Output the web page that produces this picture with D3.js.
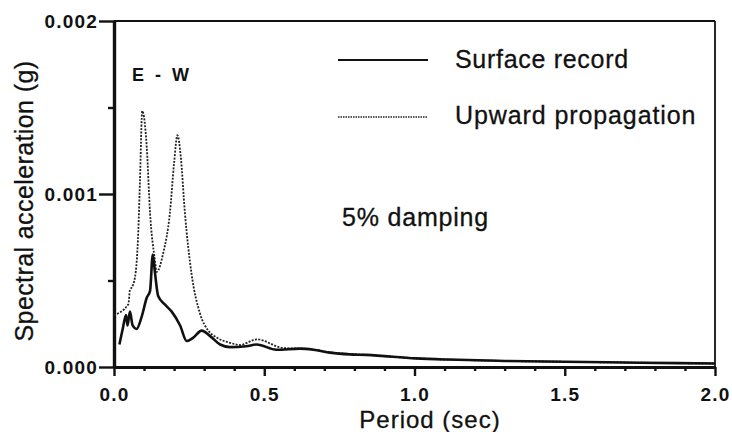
<!DOCTYPE html>
<html>
<head>
<meta charset="utf-8">
<script src="https://cdn.jsdelivr.net/npm/d3@7"></script>
<style>
  body { margin: 0; background: #fff; }
  svg text { font-family: "Liberation Sans", Arial, sans-serif; fill: #111; }
</style>
</head>
<body>
<svg width="732" height="432"></svg>
<script>
// surface record (solid)
var surfPeriod = [0.018, 0.029, 0.040, 0.045, 0.053, 0.062, 0.075, 0.092, 0.109, 0.120, 0.129, 0.136, 0.147, 0.170, 0.192, 0.220, 0.242, 0.264, 0.292, 0.319, 0.353, 0.386, 0.440, 0.475, 0.541, 0.619, 0.663, 0.719, 0.785, 0.840, 1.005, 1.110, 1.300, 1.500, 1.750, 2.000];
var surfAcc = [0.00013, 0.00022, 0.00030, 0.00024, 0.00032, 0.00024, 0.00022, 0.00029, 0.00040, 0.00044, 0.00065, 0.00055, 0.00041, 0.00036, 0.00032, 0.00024, 0.00015, 0.00017, 0.00021, 0.00018, 0.00013, 0.000115, 0.00012, 0.00013, 0.00010, 0.000106, 0.00010, 0.000083, 0.000073, 0.00007, 0.00005, 0.000043, 0.000035, 0.00003, 0.000025, 0.00002];

// upward propagation (dotted)
var upPeriod = [0.000, 0.048, 0.053, 0.059, 0.070, 0.081, 0.0865, 0.094, 0.109, 0.120, 0.136, 0.142, 0.164, 0.186, 0.200, 0.211, 0.222, 0.236, 0.258, 0.286, 0.314, 0.342, 0.386, 0.420, 0.464, 0.475, 0.563, 0.652, 0.719, 0.785, 0.840, 1.005, 1.110, 1.300, 1.500, 1.750, 2.000];
var upAcc = [0.00030, 0.000364, 0.000445, 0.00046, 0.00052, 0.00079, 0.00108, 0.00148, 0.00127, 0.00089, 0.00062, 0.00055, 0.00066, 0.00089, 0.00118, 0.00134, 0.00122, 0.00089, 0.00054, 0.00031, 0.00021, 0.00017, 0.00014, 0.000127, 0.000156, 0.00016, 0.00011, 0.000104, 0.000085, 0.000075, 0.00007, 0.00005, 0.000043, 0.000035, 0.00003, 0.000025, 0.00002];

var xMajor = [0, 0.5, 1.0, 1.5, 2.0];
var xMinorTicks = [0.1, 0.2, 0.3, 0.4, 0.6, 0.7, 0.8, 0.9, 1.1, 1.2, 1.3, 1.4, 1.6, 1.7, 1.8, 1.9];
var yMajor = [0, 0.001, 0.002];
var yMinorTicks = [0.0005, 0.0015];

var svg = d3.select("svg");
var x = d3.scaleLinear().domain([0, 2]).range([114, 715]);
var y = d3.scaleLinear().domain([0, 0.002]).range([367, 21]);

var line = d3.line()
    .x(function (d) { return x(d[0]); })
    .y(function (d) { return y(d[1]); })
    .curve(d3.curveMonotoneX);

// frame top and right
svg.append("line").attr("x1", x(0)).attr("x2", x(2)).attr("y1", y(0.002)).attr("y2", y(0.002))
    .attr("stroke", "#111").attr("stroke-width", 2.2);
svg.append("line").attr("x1", x(2)).attr("x2", x(2)).attr("y1", y(0.002)).attr("y2", y(0))
    .attr("stroke", "#111").attr("stroke-width", 1.8);

// axes
var xMinor = svg.append("g").attr("transform", "translate(0," + y(0) + ")")
    .call(d3.axisBottom(x).tickValues(xMinorTicks).tickSize(4).tickSizeOuter(0).tickFormat(""));
var xAxis = svg.append("g").attr("transform", "translate(0," + y(0) + ")")
    .call(d3.axisBottom(x).tickValues(xMajor).tickFormat(d3.format(".1f")).tickSize(9).tickSizeOuter(0).tickPadding(12));
var yMinor = svg.append("g").attr("transform", "translate(" + x(0) + ",0)")
    .call(d3.axisLeft(y).tickValues(yMinorTicks).tickSize(6).tickSizeOuter(0).tickFormat(""));
var yAxis = svg.append("g").attr("transform", "translate(" + x(0) + ",0)")
    .call(d3.axisLeft(y).tickValues(yMajor).tickFormat(d3.format(".3f")).tickSize(15).tickSizeOuter(0).tickPadding(1));

[xAxis, xMinor, yAxis, yMinor].forEach(function (g) {
    g.select(".domain").attr("stroke", "#111").attr("stroke-width", 3.2);
    g.selectAll(".tick line").attr("stroke", "#111").attr("stroke-width", 2.4);
    g.selectAll(".tick text")
        .attr("font-size", 19)
        .attr("font-weight", "bold")
        .attr("letter-spacing", 1.2)
        .attr("font-family", "Liberation Sans, Arial, sans-serif")
        .attr("fill", "#111");
});
yAxis.selectAll(".tick text").attr("dy", "0.36em");

// curves
svg.append("path").datum(d3.zip(upPeriod, upAcc)).attr("d", line)
    .attr("fill", "none").attr("stroke", "#222").attr("stroke-width", 1.8).attr("stroke-dasharray", "2,1.4");
svg.append("path").datum(d3.zip(surfPeriod, surfAcc)).attr("d", line)
    .attr("fill", "none").attr("stroke", "#111").attr("stroke-width", 2.6);

// legend
svg.append("line").attr("x1", 338).attr("x2", 428).attr("y1", 60).attr("y2", 60)
    .attr("stroke", "#111").attr("stroke-width", 2.2);
svg.append("text").attr("x", 455).attr("y", 68).attr("font-size", 25).attr("letter-spacing", 0.7)
    .attr("stroke", "#111").attr("stroke-width", 0.3).text("Surface record");
svg.append("line").attr("x1", 338).attr("x2", 428).attr("y1", 117).attr("y2", 117)
    .attr("stroke", "#222").attr("stroke-width", 1.5).attr("stroke-dasharray", "1.5,1");
svg.append("text").attr("x", 455).attr("y", 124).attr("font-size", 25).attr("letter-spacing", 0.9)
    .attr("stroke", "#111").attr("stroke-width", 0.3).text("Upward propagation");

svg.append("text").attr("x", 132).attr("y", 81).attr("font-size", 18).attr("font-weight", "bold")
    .attr("letter-spacing", 3).text("E - W");
svg.append("text").attr("x", 342).attr("y", 226).attr("font-size", 25).attr("letter-spacing", 0.8)
    .attr("stroke", "#111").attr("stroke-width", 0.3).text("5% damping");

// axis titles
svg.append("text").attr("x", 430).attr("y", 428).attr("text-anchor", "middle").attr("font-size", 24)
    .attr("letter-spacing", 1).attr("stroke", "#111").attr("stroke-width", 0.3).text("Period (sec)");
svg.append("text").attr("transform", "translate(33,201) rotate(-90)").attr("text-anchor", "middle")
    .attr("font-size", 25).attr("letter-spacing", 0.4).attr("stroke", "#111").attr("stroke-width", 0.3)
    .text("Spectral acceleration (g)");
</script>
</body>
</html>
